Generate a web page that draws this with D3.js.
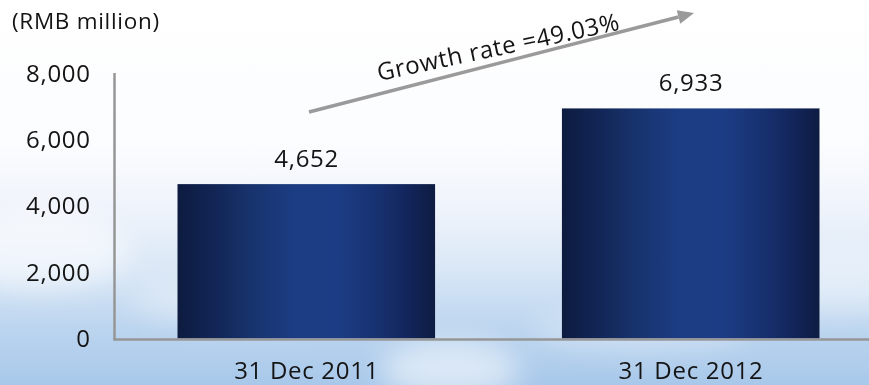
<!DOCTYPE html>
<html>
<head>
<meta charset="utf-8">
<script src="https://cdn.jsdelivr.net/npm/d3@7"></script>
<style>
  html, body { margin: 0; padding: 0; background: #fff; }
  svg { display: block; }
  text { font-family: "Open Sans", "Noto Sans", sans-serif; fill: #141414; }
</style>
</head>
<body>
<svg id="chart" width="869" height="385"></svg>
<script>
// Chart data
const categories = ["31 Dec 2011", "31 Dec 2012"];
const values = [4652, 6933];
const tickValues = [0, 2000, 4000, 6000, 8000];
const unitLabel = "(RMB million)";
const growthLabel = "Growth rate =49.03%";

const W = 869, H = 385;
const svg = d3.select("#chart");
const defs = svg.append("defs");

// Sky backdrop: white at top fading into pale blue
const sky = defs.append("linearGradient").attr("id", "sky")
  .attr("x1", 0).attr("y1", 0).attr("x2", 0).attr("y2", 1);
[[0, "#ffffff"], [0.38, "#fbfcfe"], [0.55, "#eef3fb"], [0.7, "#d9e7f6"],
 [0.85, "#bcd5ef"], [1, "#a8c8ea"]].forEach(([o, c]) =>
  sky.append("stop").attr("offset", o).attr("stop-color", c));
svg.append("rect").attr("width", W).attr("height", H).attr("fill", "url(#sky)");

// Soft clouds near the bottom
const blur = defs.append("filter").attr("id", "cloudBlur")
  .attr("x", "-50%").attr("y", "-50%").attr("width", "200%").attr("height", "200%");
blur.append("feGaussianBlur").attr("stdDeviation", 14);
const clouds = svg.append("g").attr("filter", "url(#cloudBlur)");
[[40, 250, 90, 40, 0.55], [250, 300, 120, 25, 0.35], [450, 370, 70, 30, 0.55],
 [640, 330, 110, 22, 0.3], [840, 280, 80, 35, 0.35]].forEach(([cx, cy, rx, ry, op]) =>
  clouds.append("ellipse").attr("cx", cx).attr("cy", cy).attr("rx", rx).attr("ry", ry)
    .attr("fill", "#ffffff").attr("opacity", op));

// Bar fill: dark navy edges with a lighter blue centre
const barGrad = defs.append("linearGradient").attr("id", "barGrad")
  .attr("x1", 0).attr("y1", 0).attr("x2", 1).attr("y2", 0);
[[0, "#0d1b3f"], [0.12, "#112452"], [0.3, "#18346f"], [0.45, "#1c3c83"],
 [0.62, "#1c3d85"], [0.78, "#173170"], [0.9, "#12255a"], [1, "#0e1c42"]].forEach(([o, c]) =>
  barGrad.append("stop").attr("offset", o).attr("stop-color", c));

// Scales
const x = d3.scaleBand().domain(categories).range([116, 881])
  .paddingInner(0.33).paddingOuter(0.16);
const y = d3.scaleLinear().domain([0, 8000]).range([338.5, 73]);

// Bars
svg.append("g").selectAll("rect").data(values).join("rect")
  .attr("x", (d, i) => x(categories[i]))
  .attr("y", d => y(d))
  .attr("width", x.bandwidth())
  .attr("height", d => y(0) - y(d))
  .attr("fill", "url(#barGrad)");

// Axis lines
svg.append("line").attr("x1", 114.5).attr("x2", 114.5).attr("y1", 73).attr("y2", 340.5)
  .attr("stroke", "#969696").attr("stroke-width", 2.5);
svg.append("line").attr("x1", 113.5).attr("x2", W).attr("y1", 339.5).attr("y2", 339.5)
  .attr("stroke", "#969696").attr("stroke-width", 2.5);

const FS = 24;   // label font size
const LS = 0.7;  // slight letter spacing
const fmt = d3.format(",");

// Y tick labels
svg.append("g").selectAll("text").data(tickValues).join("text")
  .attr("x", 90 + LS).attr("y", d => y(d) + 8.5)
  .attr("text-anchor", "end").attr("font-size", FS).attr("letter-spacing", LS)
  .text(d => fmt(d));

// X category labels
svg.append("g").selectAll("text").data(categories).join("text")
  .attr("x", d => x(d) + x.bandwidth() / 2 + LS / 2).attr("y", 378.5)
  .attr("text-anchor", "middle").attr("font-size", FS).attr("letter-spacing", LS)
  .text(d => d);

// Value labels above bars
svg.append("g").selectAll("text").data(values).join("text")
  .attr("x", (d, i) => x(categories[i]) + x.bandwidth() / 2 + LS / 2)
  .attr("y", d => y(d) - 17)
  .attr("text-anchor", "middle").attr("font-size", FS).attr("letter-spacing", LS)
  .text(d => fmt(d));

// Unit label
svg.append("text").attr("x", 12).attr("y", 29).attr("font-size", 22.5)
  .attr("letter-spacing", 0.7).text(unitLabel);

// Growth arrow
const ax0 = 309, ay0 = 112, ax1 = 694, ay1 = 13;
const ang = Math.atan2(ay1 - ay0, ax1 - ax0);
const headLen = 16, headW = 7;
const bx = ax1 - headLen * Math.cos(ang), by = ay1 - headLen * Math.sin(ang);
svg.append("line").attr("x1", ax0).attr("y1", ay0).attr("x2", bx).attr("y2", by)
  .attr("stroke", "#9a9a9a").attr("stroke-width", 3.5);
const px = -Math.sin(ang), py = Math.cos(ang);
svg.append("path")
  .attr("d", `M${ax1},${ay1} L${bx + px * headW},${by + py * headW} L${bx - px * headW},${by - py * headW} Z`)
  .attr("fill", "#9a9a9a");

svg.append("text")
  .attr("transform", "translate(379,81) rotate(-12)")
  .attr("text-anchor", "start").attr("font-size", FS).attr("letter-spacing", 0.6)
  .text(growthLabel);
</script>
</body>
</html>
